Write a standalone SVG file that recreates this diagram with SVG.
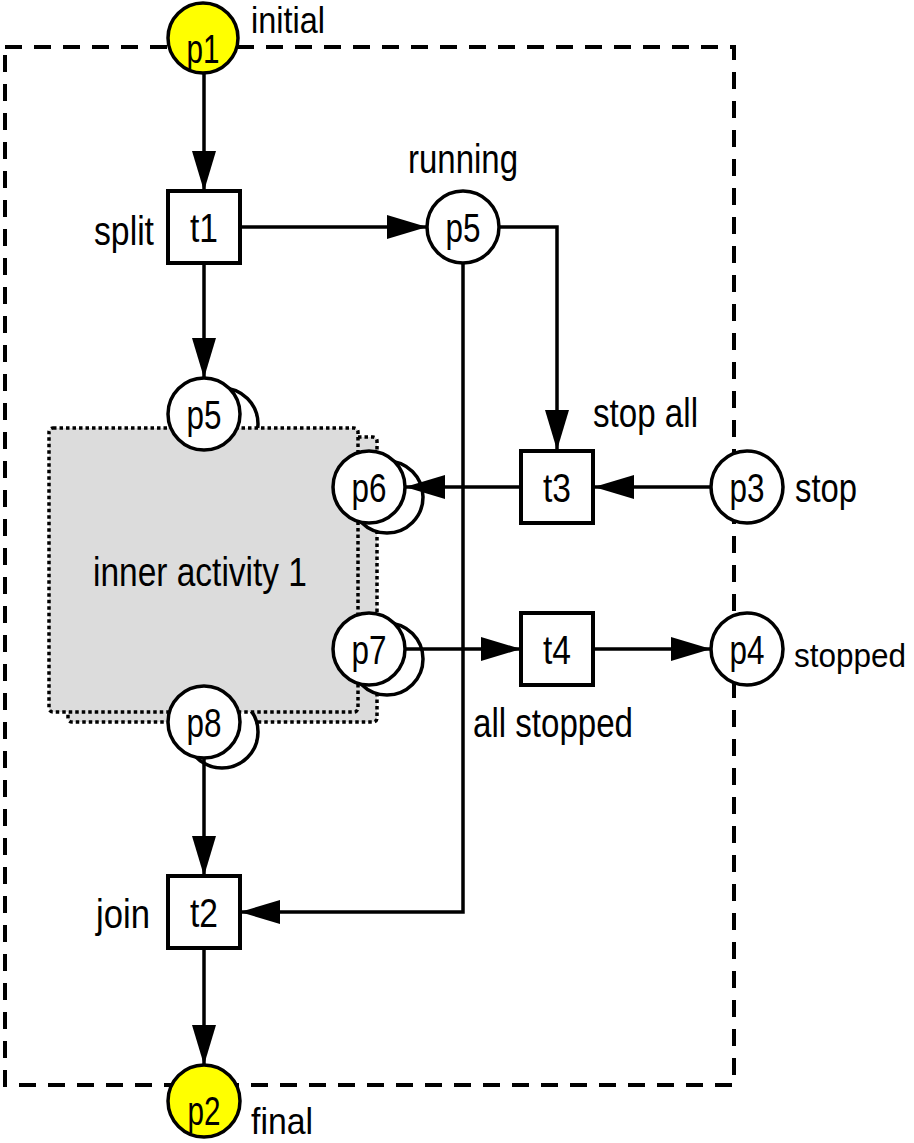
<svg xmlns="http://www.w3.org/2000/svg" width="914" height="1143" viewBox="0 0 914 1143">
<defs>
<marker id="ah" markerUnits="userSpaceOnUse" markerWidth="40" markerHeight="24" refX="40" refY="12" orient="auto">
<path d="M0,0 L40,12 L0,24 z" fill="#000"/>
</marker>
<style>
text{font-family:"Liberation Sans",Arial,sans-serif;font-size:40px;fill:#000}
.c{text-anchor:middle}
.edge{font-size:36px}
.pl{fill:#fff;stroke:#000;stroke-width:3.5}
.y{fill:#ffff00;stroke:#000;stroke-width:3.5}
.tr{fill:#fff;stroke:#000;stroke-width:4}
.e{fill:none;stroke:#000;stroke-width:3.5}
.box{fill:none;stroke:#000;stroke-width:4;stroke-dasharray:17 12}
.act{fill:#dcdcdc;stroke:#000;stroke-width:3.5;stroke-dasharray:3.5 3}
</style>
</defs>
<rect class="box" x="5" y="47" width="729" height="1038"/>

<g id="inner_activity">
<rect class="act" x="68" y="437" width="309" height="285" rx="4"/>
<circle class="pl" cx="222" cy="424" r="36"/>
<circle class="pl" cx="387" cy="497" r="36"/>
<circle class="pl" cx="387" cy="659" r="36"/>
<circle class="pl" cx="222" cy="732" r="36"/>
<rect class="act" x="49" y="428" width="309" height="284" rx="4"/>
<text class="c" x="200" y="586" textLength="214" lengthAdjust="spacingAndGlyphs">inner activity 1</text>
</g>

<g id="connectors">
<path class="e" d="M204,73 L204,191" marker-end="url(#ah)"/>
<path class="e" d="M240,227 L427,227" marker-end="url(#ah)"/>
<path class="e" d="M204,263 L204,378" marker-end="url(#ah)"/>
<path class="e" d="M499,227 L557,227 L557,450" marker-end="url(#ah)"/>
<path class="e" d="M463,263 L463,912 L240,912" marker-end="url(#ah)"/>
<path class="e" d="M711,487 L594,487" marker-end="url(#ah)"/>
<path class="e" d="M521,487 L405,487" marker-end="url(#ah)"/>
<path class="e" d="M405,649 L521,649" marker-end="url(#ah)"/>
<path class="e" d="M594,649 L711,649" marker-end="url(#ah)"/>
<path class="e" d="M204,758 L204,876" marker-end="url(#ah)"/>
<path class="e" d="M204,948 L204,1065" marker-end="url(#ah)"/>
</g>

<g id="p1">
<circle class="y" cx="203" cy="38" r="35"/>
<text class="c" x="203" y="63" textLength="33" lengthAdjust="spacingAndGlyphs">p1</text>
<text class="edge" x="251" y="33" textLength="74" lengthAdjust="spacingAndGlyphs">initial</text>
</g>
<g id="t1">
<rect class="tr" x="168" y="191" width="72" height="72"/>
<text class="c" x="204" y="242" textLength="28" lengthAdjust="spacingAndGlyphs">t1</text>
<text x="94" y="245" textLength="60" lengthAdjust="spacingAndGlyphs">split</text>
</g>
<g id="p5_running">
<circle class="pl" cx="463" cy="227" r="36"/>
<text class="c" x="463" y="242" textLength="35" lengthAdjust="spacingAndGlyphs">p5</text>
<text x="408" y="173" textLength="110" lengthAdjust="spacingAndGlyphs">running</text>
</g>
<g id="p5_inner">
<circle class="pl" cx="204" cy="414" r="36"/>
<text class="c" x="204" y="429" textLength="35" lengthAdjust="spacingAndGlyphs">p5</text>
</g>
<g id="p6">
<circle class="pl" cx="369" cy="487" r="36"/>
<text class="c" x="369" y="502" textLength="35" lengthAdjust="spacingAndGlyphs">p6</text>
</g>
<g id="p7">
<circle class="pl" cx="369" cy="649" r="36"/>
<text class="c" x="369" y="664" textLength="35" lengthAdjust="spacingAndGlyphs">p7</text>
</g>
<g id="p8">
<circle class="pl" cx="204" cy="722" r="36"/>
<text class="c" x="204" y="737" textLength="35" lengthAdjust="spacingAndGlyphs">p8</text>
</g>
<g id="t3">
<rect class="tr" x="521" y="451" width="72" height="72"/>
<text class="c" x="557" y="502" textLength="28" lengthAdjust="spacingAndGlyphs">t3</text>
<text x="593" y="427" textLength="105" lengthAdjust="spacingAndGlyphs">stop all</text>
</g>
<g id="p3">
<circle class="pl" cx="747" cy="487" r="36"/>
<text class="c" x="747" y="502" textLength="35" lengthAdjust="spacingAndGlyphs">p3</text>
<text x="795" y="502" textLength="62" lengthAdjust="spacingAndGlyphs">stop</text>
</g>
<g id="t4">
<rect class="tr" x="521" y="613" width="72" height="72"/>
<text class="c" x="557" y="664" textLength="28" lengthAdjust="spacingAndGlyphs">t4</text>
<text x="473" y="737" textLength="160" lengthAdjust="spacingAndGlyphs">all stopped</text>
</g>
<g id="p4">
<circle class="pl" cx="747" cy="649" r="36"/>
<text class="c" x="747" y="664" textLength="35" lengthAdjust="spacingAndGlyphs">p4</text>
<text x="794" y="667" style="font-size:33px" textLength="112" lengthAdjust="spacingAndGlyphs">stopped</text>
</g>
<g id="t2">
<rect class="tr" x="168" y="876" width="72" height="72"/>
<text class="c" x="204" y="927" textLength="28" lengthAdjust="spacingAndGlyphs">t2</text>
<text x="96" y="928" textLength="54" lengthAdjust="spacingAndGlyphs">join</text>
</g>
<g id="p2">
<circle class="y" cx="204" cy="1101" r="36"/>
<text class="c" x="204" y="1125" textLength="33" lengthAdjust="spacingAndGlyphs">p2</text>
<text class="edge" x="251" y="1134" textLength="62" lengthAdjust="spacingAndGlyphs">final</text>
</g>
</svg>
